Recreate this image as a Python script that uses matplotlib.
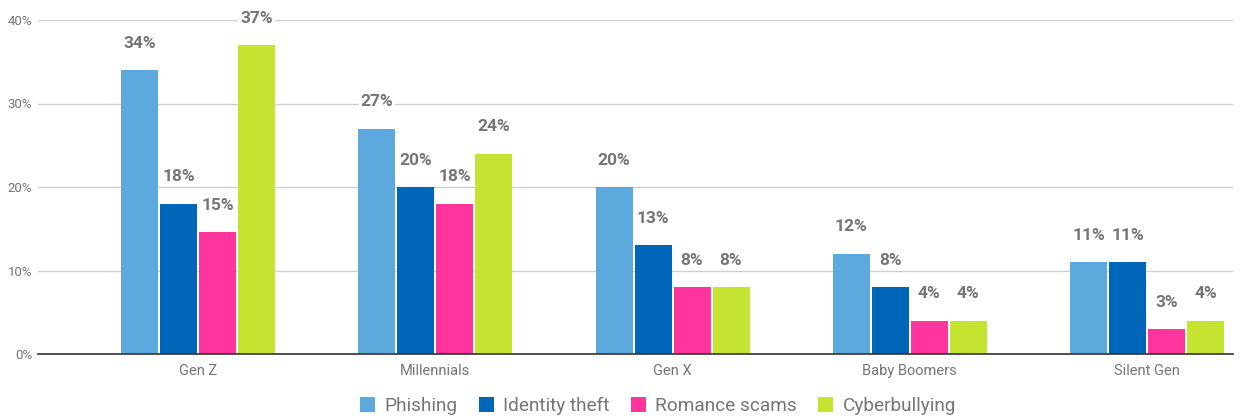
import matplotlib
matplotlib.use("Agg")
import matplotlib.pyplot as plt
import numpy as np

plt.rcParams['font.family'] = ['Roboto', 'DejaVu Sans']

categories = ["Gen Z", "Millennials", "Gen X", "Baby Boomers", "Silent Gen"]
series_names = ["Phishing", "Identity theft", "Romance scams", "Cyberbullying"]
phishing = [34, 27, 20, 12, 11]
identity_theft = [18, 20, 13, 8, 11]
romance_scams = [14.6, 18, 8, 4, 3]
cyberbullying = [37, 24, 8, 4, 4]
colors = ["#5DA9DD", "#0066BA", "#FF359D", "#C5E432"]
yticks = [0, 10, 20, 30, 40]

W, H = 1241, 420
fig = plt.figure(figsize=(W / 100, H / 100), dpi=100)
ax = fig.add_axes([38 / W, (H - 354) / H, (1233 - 38) / W, (354 - 20) / H])

x = np.arange(len(categories))
pitch = 39 / 237.25
width = 37 / 237.25
all_series = [phishing, identity_theft, romance_scams, cyberbullying]
for i, (vals, name, c) in enumerate(zip(all_series, series_names, colors)):
    pos = x + (i - 1.5) * pitch
    ax.bar(pos, vals, width=width, color=c, label=name, zorder=2)
    for px, v in zip(pos, vals):
        ax.annotate(f"{round(v):d}%", (px, v), xytext=(0, 19.4), textcoords="offset points",
                    ha="center", va="center", fontsize=12.5, fontweight="bold", color="#757575",
                    bbox=dict(boxstyle="square,pad=0.1", fc="white", ec="none"), zorder=4)

ax.set_xlim(-(198 - 38) / 237.25, 4 + (1233 - 1147) / 237.25)
ax.set_ylim(0, 40)
ax.set_yticks(yticks)
ax.set_yticklabels([f"{t}%" for t in yticks])
ax.set_xticks(x)
ax.set_xticklabels(categories)
ax.grid(axis="y", color="#D0D0D0", linewidth=1, zorder=0)
ax.set_axisbelow(True)
for s in ["top", "right", "left"]:
    ax.spines[s].set_visible(False)
ax.spines["bottom"].set_color("#333333")
ax.spines["bottom"].set_linewidth(1.2)
ax.spines["bottom"].set_zorder(3)
ax.tick_params(axis="both", length=0, colors="#757575")
ax.tick_params(axis="y", pad=4, labelsize=9.5)
ax.tick_params(axis="x", pad=7, labelsize=10.5)

leg = fig.legend(loc="center", bbox_to_anchor=(658 / W, 1 - 406 / H), ncol=4, frameon=False,
                 fontsize=13.7, handlelength=0.8, handleheight=0.8, handletextpad=0.5,
                 columnspacing=1.1, labelcolor="#757575")

fig.savefig("out.png", dpi=100, facecolor="white")
